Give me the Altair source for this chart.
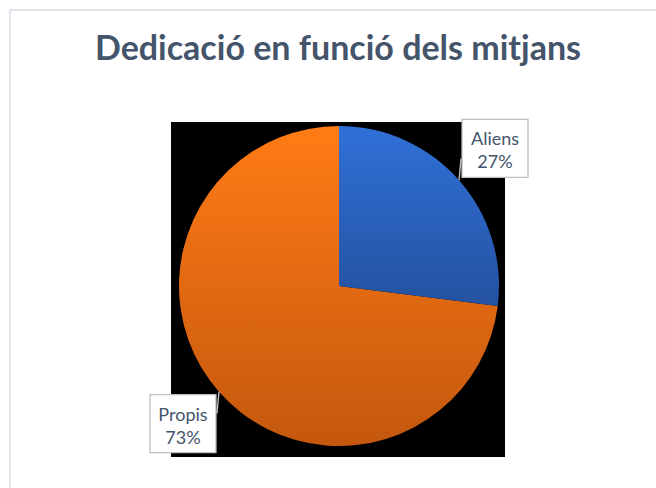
import altair as alt
import pandas as pd

title_text = "Dedicació en funció dels mitjans"
categories = ["Aliens", "Propis"]
values = [27, 73]
labels = ["Aliens\n27%", "Propis\n73%"]

df = pd.DataFrame({"cat": categories, "val": values, "label": labels, "order": [0, 1]})

W, H = 656, 488
CX, CY, R, LR = 339, 286, 160, 208

xs = alt.Scale(domain=[0, W], range=[0, W])
ys = alt.Scale(domain=[0, H], range=[0, H])

base = alt.Chart(df).transform_window(
    end="sum(val)", sort=[alt.SortField("order")], frame=[None, 0]
).transform_calculate(
    start="datum.end - datum.val",
    ang=f"(datum.end - datum.val/2) / 100 * 2 * PI",
).transform_calculate(
    lx=f"{CX} + {LR} * sin(datum.ang)",
    ly=f"{CY} - {LR} * cos(datum.ang)",
    px=f"{CX} + {R} * sin(datum.ang)",
    py=f"{CY} - {R} * cos(datum.ang)",
).transform_calculate(
    ex="datum.lx - 34 * (sin(datum.ang) > 0 ? 1 : -1)",
    ey="datum.ly + 10 * (cos(datum.ang) > 0 ? 1 : -1)",
    bx1="datum.lx - 33",
    bx2="datum.lx + 33",
    by1="datum.ly - 29",
    by2="datum.ly + 29",
)

border = alt.Chart(df).mark_rect(fill=None, stroke="#dcdde6", strokeWidth=1.5).encode(
    x=alt.value(10), x2=alt.value(720), y=alt.value(10), y2=alt.value(600)
).transform_filter("datum.order == 0")

bg = alt.Chart(df).mark_rect(fill="black").encode(
    x=alt.value(171), x2=alt.value(505), y=alt.value(122), y2=alt.value(457)
).transform_filter("datum.order == 0")

theta_scale = alt.Scale(domain=[0, 100], range=[0, 6.283185307179586])

def grad(top, bottom):
    return alt.LinearGradient(
        gradient="linear", x1=0, y1=0, x2=0, y2=1,
        stops=[alt.GradientStop(offset=0, color=top), alt.GradientStop(offset=1, color=bottom)],
    )

blue = base.transform_filter("datum.cat == 'Aliens'").mark_arc(
    radius=R, fill=grad("#3070d8", "#2452a0"), stroke=None
).encode(
    theta=alt.Theta("start:Q", scale=theta_scale, stack=None),
    theta2="end:Q",
    x=alt.value(CX), y=alt.value(CY),
)
orange = base.transform_filter("datum.cat == 'Propis'").mark_arc(
    radius=R, fill=grad("#ff7b15", "#c4580e"), stroke=None
).encode(
    theta=alt.Theta("start:Q", scale=theta_scale, stack=None),
    theta2="end:Q",
    x=alt.value(CX), y=alt.value(CY),
)

leader = base.mark_rule(color="#c8c8c8", strokeWidth=1.3).encode(
    x=alt.X("px:Q", scale=xs, axis=None),
    y=alt.Y("py:Q", scale=ys, axis=None),
    x2="ex:Q", y2="ey:Q",
)

boxes = base.mark_rect(fill="white", stroke="#bfbfbf", strokeWidth=1.3).encode(
    x=alt.X("bx1:Q", scale=xs, axis=None),
    x2="bx2:Q",
    y=alt.Y("by1:Q", scale=ys, axis=None),
    y2="by2:Q",
)

texts = base.mark_text(
    font="Lato", fontSize=18, color="#44546a", lineBreak="\n", lineHeight=23,
    align="center", baseline="middle", dy=-8,
).encode(
    x=alt.X("lx:Q", scale=xs, axis=None),
    y=alt.Y("ly:Q", scale=ys, axis=None),
    text="label:N",
)

chart = alt.layer(border, bg, orange, blue, leader, boxes, texts).properties(
    width=W, height=H, padding=0, autosize=alt.AutoSizeParams(type="none"),
    background="white",
    title=alt.Title(
        title_text, font="Lato", fontSize=34, fontWeight="bold", color="#44546a",
        anchor="middle", baseline="alphabetic", offset=0, dy=94, dx=10,
    ),
).configure_view(stroke=None)

chart.save("out.html", embed_options={"renderer": "svg", "actions": False})
